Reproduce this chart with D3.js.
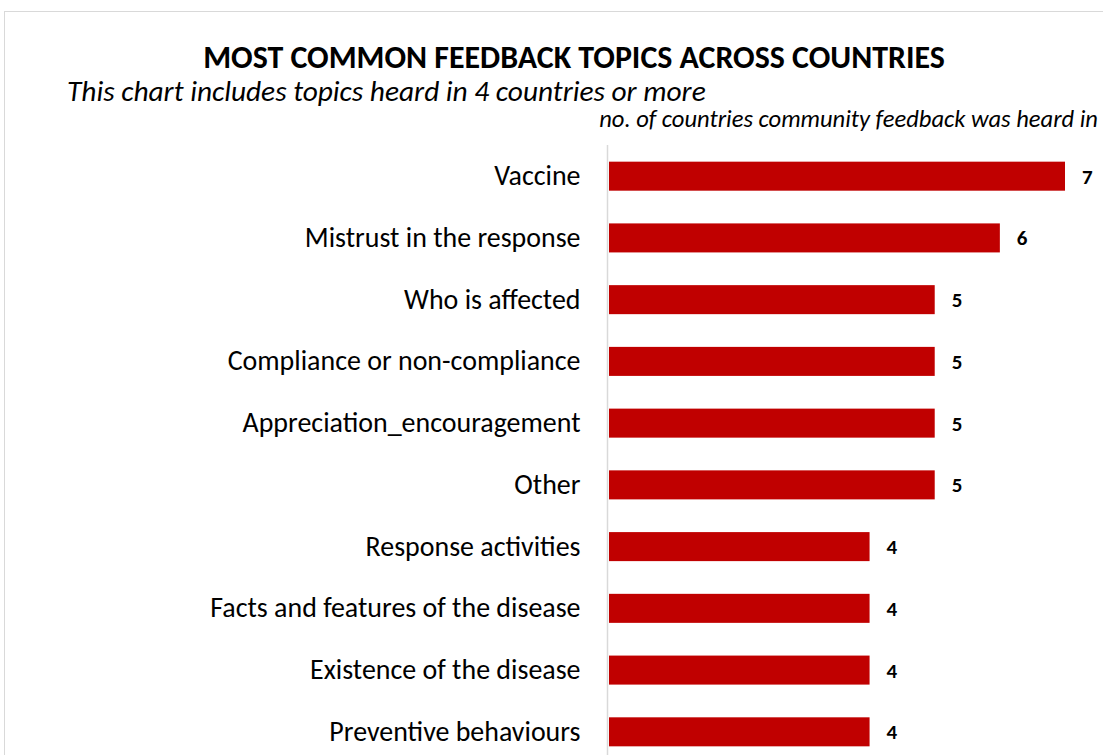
<!DOCTYPE html>
<html>
<head>
<meta charset="utf-8">
<script src="https://cdn.jsdelivr.net/npm/d3@7"></script>
<style>
  body { margin: 0; background: #fff; }
  svg { display: block; }
  text { font-family: Carlito, Calibri, "Open Sans", sans-serif; fill: #000; }
</style>
</head>
<body>
<div id="chart"></div>
<script>
const width = 1103;
const height = 755;

// data
const topics = [
  'Vaccine',
  'Mistrust in the response',
  'Who is affected',
  'Compliance or non-compliance',
  'Appreciation_encouragement',
  'Other',
  'Response activities',
  'Facts and features of the disease',
  'Existence of the disease',
  'Preventive behaviours'
];
const countries = [7, 6, 5, 5, 5, 5, 4, 4, 4, 4];

const data = topics.map((t, i) => ({topic: t, value: countries[i]}));

const svg = d3.select('#chart').append('svg')
  .attr('width', width)
  .attr('height', height);

// outer frame
svg.append('rect')
  .attr('x', 4.5).attr('y', 11.5)
  .attr('width', width + 10).attr('height', height + 10)
  .attr('fill', 'none')
  .attr('stroke', '#d9d9d9');

const x = d3.scaleLinear().domain([0, 7]).range([609, 1065]);
const y = d3.scaleBand().domain(topics).range([145, 763]).paddingInner(0.53).paddingOuter(0.27);

// shrink or grow a text to the width it has in the picture
function fit(sel, target) {
  const node = sel.node();
  const fs = parseFloat(sel.attr('font-size'));
  const w = node.getComputedTextLength();
  sel.attr('font-size', (fs * target / w).toFixed(2));
}

svg.append('text')
  .attr('x', 574).attr('y', 68)
  .attr('text-anchor', 'middle')
  .attr('font-size', 24)
  .attr('font-weight', 'bold')
  .text('MOST COMMON FEEDBACK TOPICS ACROSS COUNTRIES')
  .call(fit, 742);

svg.append('text')
  .attr('x', 67).attr('y', 101)
  .attr('font-size', 22)
  .attr('font-style', 'italic')
  .text('This chart includes topics heard in 4 countries or more')
  .call(fit, 639);

svg.append('text')
  .attr('x', 1098).attr('y', 127)
  .attr('text-anchor', 'end')
  .attr('font-size', 18)
  .attr('font-style', 'italic')
  .text('no. of countries community feedback was heard in')
  .call(fit, 499);

// bars
svg.append('g')
  .selectAll('rect')
  .data(data)
  .join('rect')
  .attr('x', x(0))
  .attr('y', d => y(d.topic))
  .attr('width', d => x(d.value) - x(0))
  .attr('height', y.bandwidth())
  .attr('fill', '#c00000');

// value labels
svg.append('g')
  .selectAll('text')
  .data(data)
  .join('text')
  .attr('x', d => x(d.value) + 17)
  .attr('y', d => y(d.topic) + y.bandwidth() / 2)
  .attr('dy', '0.36em')
  .style('font-size', '21px')
  .style('font-weight', 'bold')
  .text(d => d.value);

// category axis
const yAxis = d3.axisLeft(y).tickSize(0).tickPadding(27);
const gy = svg.append('g')
  .attr('transform', `translate(${x(0) - 1.5},0)`)
  .call(yAxis);
gy.select('.domain').remove();
gy.append('line')
  .attr('x1', 0).attr('x2', 0)
  .attr('y1', 145).attr('y2', height)
  .attr('stroke', '#d9d9d9')
  .attr('stroke-width', 1.5);
gy.selectAll('.tick text')
  .attr('font-size', 22)
  .attr('font-family', 'Carlito, Calibri, "Open Sans", sans-serif')
  .attr('fill', '#000');
// scale all category labels together, using the widest one
const ref = gy.selectAll('.tick text').filter(d => d === 'Compliance or non-compliance');
const rw = ref.node().getComputedTextLength();
const lf = (22 * 353 / rw).toFixed(2);
gy.selectAll('.tick text').attr('font-size', lf);
</script>
</body>
</html>
